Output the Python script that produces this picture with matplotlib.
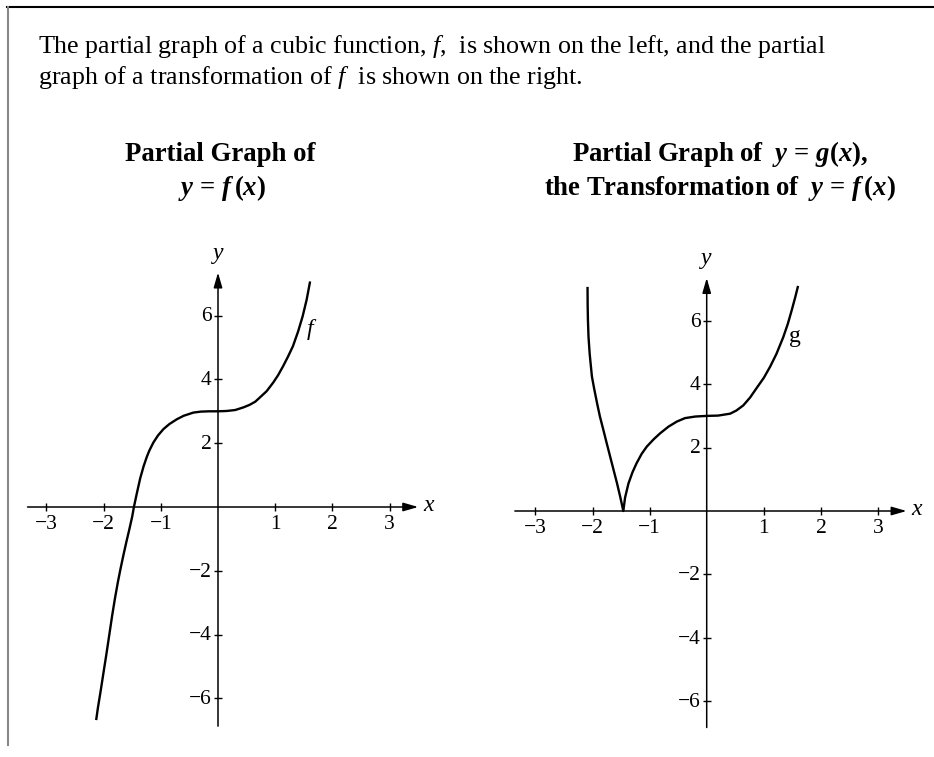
import numpy as np
import matplotlib.pyplot as plt

plt.rcParams['font.family'] = 'Liberation Serif'
plt.rcParams['mathtext.fontset'] = 'custom'
plt.rcParams['mathtext.rm'] = 'Liberation Serif'
plt.rcParams['mathtext.it'] = 'Liberation Serif:italic'
plt.rcParams['mathtext.bf'] = 'Liberation Serif:bold'
plt.rcParams['mathtext.bfit'] = 'Liberation Serif:italic:bold'

# points
f_x = [-2.13, -2.1, -2.05, -2.0, -1.95, -1.9, -1.85, -1.8, -1.75, -1.7, -1.65, -1.6, -1.55,
       -1.5, -1.47, -1.42, -1.36, -1.3, -1.245, -1.2, -1.13, -1.05, -0.955, -0.85, -0.72,
       -0.6, -0.43, -0.3, -0.15, 0.0, 0.15, 0.3, 0.44, 0.55, 0.65, 0.73, 0.85, 0.965, 1.05,
       1.14, 1.22, 1.31, 1.4, 1.48, 1.55, 1.61]
f_y = [-6.68, -6.3, -5.75, -5.17, -4.6, -4.0, -3.4, -2.85, -2.35, -1.9, -1.48, -1.08, -0.7,
       -0.3, 0.0, 0.42, 0.9, 1.28, 1.57, 1.77, 2.02, 2.24, 2.44, 2.6, 2.75,
       2.86, 2.96, 2.99, 3.0, 3.0, 3.01, 3.04, 3.12, 3.2, 3.3, 3.43, 3.63, 3.90, 4.13,
       4.42, 4.7, 5.04, 5.5, 5.98, 6.5, 7.07]

g_x = [-2.087, -2.085, -2.08, -2.07, -2.05, -2.03, -2.01, -1.97, -1.92, -1.87, -1.81, -1.75,
       -1.69, -1.63, -1.57, -1.515, -1.46, -1.43, -1.37, -1.3, -1.23, -1.14, -1.05, -0.93,
       -0.816, -0.67, -0.524, -0.38, -0.2, 0.0, 0.2, 0.41, 0.52, 0.64, 0.76, 0.875, 1.0,
       1.11, 1.22, 1.34, 1.42, 1.49, 1.55, 1.60]
g_y = [7.07, 6.5, 6.03, 5.5, 4.97, 4.6, 4.24, 3.85, 3.40, 2.98, 2.56, 2.13,
       1.71, 1.29, 0.87, 0.45, 0.0, 0.42, 0.87, 1.22, 1.50, 1.8, 2.03, 2.26,
       2.45, 2.66, 2.82, 2.93, 2.98, 3.0, 3.01, 3.07, 3.17, 3.33, 3.58, 3.88, 4.2,
       4.55, 4.95, 5.48, 5.9, 6.34, 6.74, 7.10]

x_ticks = [-3, -2, -1, 1, 2, 3]
y_ticks = [-6, -4, -2, 2, 4, 6]

W, H = 934, 757
fig = plt.figure(figsize=(W / 100, H / 100), dpi=100)

# background axes in pixel coords for frame and text
bg = fig.add_axes([0, 0, 1, 1])
bg.set_xlim(0, W)
bg.set_ylim(H, 0)
bg.axis('off')
bg.plot([7, W], [7, 7], color='black', lw=1.5)
bg.plot([7.5, 7.5], [7, 745], color='#888888', lw=1.5)

body = 18.7
bg.text(38, 53, r'The partial graph of a cubic function, $f$,  is shown on the left, and the partial',
        fontsize=body, va='baseline', ha='left')
bg.text(38, 84, r'graph of a transformation of $f$  is shown on the right.',
        fontsize=body, va='baseline', ha='left')

tsize = 19.3
bg.text(220, 161, 'Partial Graph of', fontsize=tsize, fontweight='bold', ha='center', va='baseline')
bg.text(222, 195, r'$\mathbfit{y}\mathbf{\,=\,}\mathbfit{f}\mathbf{\,(}\mathbfit{x}\mathbf{)}$',
        fontsize=tsize, ha='center', va='baseline')
bg.text(720, 161, r'$\mathbf{Partial\ Graph\ of\ \ }\mathbfit{y}\mathbf{\,=\,}\mathbfit{g}\mathbf{(}\mathbfit{x}\mathbf{),}$',
        fontsize=tsize, ha='center', va='baseline')
bg.text(720, 195, r'$\mathbf{the\ Transformation\ of\ \ }\mathbfit{y}\mathbf{\,=\,}\mathbfit{f}\mathbf{\,(}\mathbfit{x}\mathbf{)}$',
        fontsize=tsize, ha='center', va='baseline')


def make_axes(ox, oy, ux, uy, xlim=(-3.4, 3.8), ylim=(-7.0, 8.4)):
    left = ox + xlim[0] * ux
    right = ox + xlim[1] * ux
    top = oy - ylim[1] * uy
    bottom = oy - ylim[0] * uy
    ax = fig.add_axes([left / W, 1 - bottom / H, (right - left) / W, (bottom - top) / H])
    ax.set_xlim(*xlim)
    ax.set_ylim(*ylim)
    ax.axis('off')
    return ax


def draw_grid(ax, xstart, ybottom):
    arrow = dict(arrowstyle='-|>,head_length=0.45,head_width=0.13', mutation_scale=20,
                 lw=1.1, color='black', shrinkA=0, shrinkB=0)
    ax.annotate('', xy=(3.5, 0), xytext=(xstart, 0), arrowprops=arrow)
    ax.annotate('', xy=(0, 7.35), xytext=(0, ybottom), arrowprops=arrow)
    ax.plot(x_ticks, [0] * len(x_ticks), ls='none', marker='|', ms=6, mew=1, color='black')
    ax.plot([0] * len(y_ticks), y_ticks, ls='none', marker='_', ms=6, mew=1, color='black')
    for v in x_ticks:
        ax.annotate(str(v).replace('-', '\u2212'), (v, 0), xytext=(0, -6), textcoords='offset points',
                    ha='center', va='top', fontsize=15.5)
    for v in y_ticks:
        ax.annotate(str(v).replace('-', '\u2212'), (0, v), xytext=(-4.5, -1), textcoords='offset points',
                    ha='right', va='center', fontsize=15.5)
    ax.text(0, 7.96, 'y', fontstyle='italic', fontsize=17, ha='center', va='center')
    ax.text(3.68, 0.06, 'x', fontstyle='italic', fontsize=17, ha='center', va='center')


ax1 = make_axes(218, 507, 57.2, 31.9)
draw_grid(ax1, -3.33, -6.87)
ax1.plot(f_x, f_y, color='black', lw=1.7, solid_capstyle='butt')
ax1.text(1.61, 5.55, 'f', fontstyle='italic', fontsize=17, ha='center', va='center')

ax2 = make_axes(706.7, 511, 57.1, 31.7)
draw_grid(ax2, -3.36, -6.83)
ax2.plot(g_x, g_y, color='black', lw=1.7, solid_capstyle='butt')
ax2.text(1.55, 5.5, 'g', fontsize=17, ha='center', va='center')

fig.savefig('out.png', dpi=100)
